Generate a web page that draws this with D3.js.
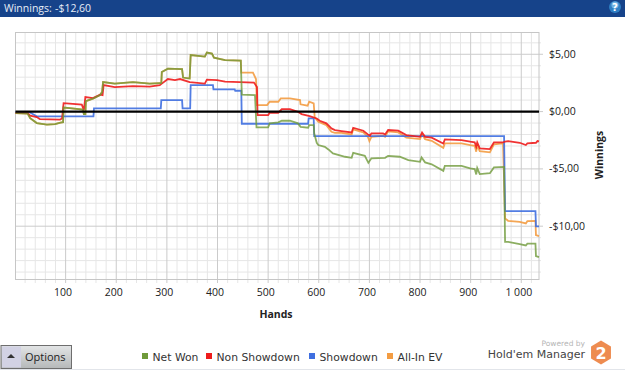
<!DOCTYPE html>
<html>
<head>
<meta charset="utf-8">
<title>Winnings</title>
<script src="https://d3js.org/d3.v7.min.js"></script>
<style>
html, body { margin: 0; padding: 0; background: #fff; overflow: hidden; }
text { font-family: "DejaVu Sans", sans-serif; }
.lbl text { font-family: "Open Sans", sans-serif; }
</style>
</head>
<body>
<script>
// values: [hand, dollars]
var netWon = [[1,-0.13],[25,-0.17],[30,-0.57],[43,-1.0],[63,-1.13],[79,-1.09],[90,-0.96],[95,-0.92],[96,0.35],[108,0.3],[134,0.17],[136,-0.22],[139,-0.22],[140,0.92],[154,1.13],[168,1.44],[172,1.7],[174,2.57],[197,2.44],[233,2.57],[266,2.44],[286,2.49],[289,2.49],[290,3.45],[302,3.75],[330,3.71],[332,2.97],[345,2.88],[347,4.93],[375,4.8],[379,5.15],[389,5.06],[393,4.71],[415,4.49],[446,4.45],[448,1.48],[474,1.44],[477,-1.38],[500,-1.38],[503,-1.03],[520,-0.94],[527,-0.8],[543,-0.8],[559,-1.03],[564,-1.33],[579,-1.41],[581,-1.18],[590,-1.18],[591,-1.9],[596,-2.72],[599,-2.92],[612,-3.07],[619,-3.3],[628,-3.65],[652,-3.94],[665,-4.03],[668,-3.6],[691,-3.86],[698,-4.47],[704,-4.08],[731,-4.03],[737,-3.86],[760,-3.94],[777,-4.23],[800,-4.38],[803,-4.0],[810,-4.43],[823,-4.6],[846,-5.17],[849,-4.73],[882,-4.73],[899,-4.96],[908,-5.02],[911,-5.48],[913,-4.93],[918,-5.45],[938,-5.38],[946,-4.87],[966,-4.82],[968,-11.36],[974,-11.36],[997,-11.56],[1009,-11.68],[1012,-11.52],[1028,-11.52],[1029,-12.6],[1035,-12.7]];
var nonShowdown = [[1,-0.13],[25,-0.13],[30,-0.35],[43,-0.48],[49,-0.65],[89,-0.7],[93,-0.6],[96,0.74],[108,0.7],[132,0.61],[136,0.13],[139,1.27],[154,1.18],[168,1.48],[173,1.44],[175,2.31],[197,2.14],[233,2.22],[266,2.18],[286,2.31],[290,2.44],[302,2.84],[316,2.75],[326,2.84],[345,2.57],[375,2.44],[379,2.79],[399,2.75],[415,2.62],[444,2.57],[472,2.53],[478,2.14],[479,-0.31],[500,-0.31],[503,-0.1],[520,-0.1],[527,0.22],[543,0.22],[559,-0.01],[566,-0.22],[582,-0.39],[596,-0.6],[602,-0.8],[615,-1.03],[625,-1.47],[632,-1.61],[645,-1.7],[665,-1.82],[668,-1.41],[688,-1.67],[697,-1.99],[701,-2.11],[704,-1.9],[727,-1.9],[731,-1.99],[737,-1.61],[757,-1.67],[773,-2.05],[800,-2.2],[804,-1.82],[810,-2.2],[823,-2.28],[846,-2.78],[849,-2.43],[882,-2.49],[899,-2.63],[908,-2.69],[911,-3.07],[913,-2.69],[918,-3.21],[938,-3.27],[946,-2.69],[964,-2.69],[968,-2.63],[974,-2.57],[997,-2.72],[1009,-2.92],[1012,-2.78],[1029,-2.72],[1032,-2.57],[1035,-2.6]];
var showdown = [[1,-0.04],[28,-0.04],[43,-0.42],[155,-0.42],[156,0.28],[288,0.28],[289,1.0],[330,1.0],[331,0.28],[346,0.28],[347,2.31],[391,2.31],[392,1.94],[434,1.94],[435,1.82],[447,1.82],[448,-1.06],[579,-1.06],[580,-0.59],[590,-0.59],[591,-2.14],[966,-2.14],[968,-8.68],[1028,-8.68],[1029,-10.02],[1035,-10.02]];
var allInEV = [[1,-0.13],[25,-0.17],[30,-0.57],[43,-1.0],[63,-1.13],[79,-1.09],[90,-0.96],[95,-0.92],[96,0.35],[108,0.3],[134,0.17],[136,-0.22],[139,-0.22],[140,0.92],[154,1.13],[168,1.44],[172,1.7],[174,2.57],[197,2.44],[233,2.57],[266,2.44],[286,2.49],[289,2.49],[290,3.45],[302,3.75],[330,3.71],[332,2.97],[345,2.88],[347,4.93],[375,4.8],[379,5.15],[389,5.06],[393,4.71],[415,4.49],[446,4.45],[447,3.4],[470,3.4],[476,2.84],[478,0.57],[498,0.57],[503,0.86],[520,0.86],[525,1.15],[543,1.15],[563,1.0],[564,0.63],[578,0.51],[581,0.86],[590,0.72],[592,-0.51],[599,-0.89],[615,-1.18],[625,-1.76],[632,-1.85],[645,-1.85],[665,-1.99],[668,-1.55],[688,-1.82],[697,-2.2],[700,-2.57],[704,-2.2],[727,-2.11],[731,-2.2],[737,-1.73],[757,-1.82],[773,-2.28],[800,-2.4],[804,-1.99],[810,-2.4],[823,-2.55],[846,-3.16],[849,-2.78],[882,-2.78],[899,-2.92],[908,-2.98],[911,-3.5],[913,-2.98],[918,-3.45],[938,-3.56],[946,-2.86],[964,-2.78],[968,-9.32],[974,-9.53],[997,-9.62],[1009,-9.76],[1012,-9.56],[1028,-9.53],[1029,-10.78],[1035,-10.87]];

var xMajor = [100,200,300,400,500,600,700,800,900,1000];
var xMinor = d3.range(20,1035,20).filter(function(d){ return d % 100 != 0; });
var yMajor = [5,0,-5,-10];
var yMinor = d3.range(-14,7,1).filter(function(d){ return d % 5 != 0; });

var legendNames = ["Net Won","Non Showdown","Showdown","All-In EV"];
var legendColors = ["#6f9a3a","#ee1c1c","#3f6fe0","#f39c42"];
var legendX = [142,206,309,387];

var width = 625, height = 370;
var svg = d3.select("body").append("svg").attr("width",width).attr("height",height).style("display","block");

var x = d3.scaleLinear().domain([1,1035]).range([15.5,539]);
var y = d3.scaleLinear().domain([6.9,-14.65]).range([32.5,279.5]);

function money(d) {
    var s = "$" + Math.abs(d).toFixed(2).replace(".",",");
    return d < 0 ? "-" + s : s;
}
function hands(d) {
    return d >= 1000 ? "1 000" : d;
}

// title bar
svg.append("rect").attr("width",width).attr("height",17).attr("fill","#16438a");
svg.append("text").attr("x",4).attr("y",12).attr("font-size",10.5).attr("fill","#e6edf7")
    .style("font-family","'Open Sans', sans-serif").text("Winnings:");
svg.append("text").attr("x",55).attr("y",12).attr("font-size",10.5).attr("fill","#e6edf7")
    .style("font-family","'Open Sans', sans-serif").text("-$12,60");
var help = svg.append("g").attr("transform","translate(615,7)");
help.append("circle").attr("r",6).attr("fill","#2f7fc4");
help.append("circle").attr("r",3.6).attr("cy",-2).attr("fill","#6fb0e2");
help.append("text").attr("text-anchor","middle").attr("y",4).attr("font-size",10).attr("font-weight","bold").attr("fill","#fff").text("?");

// grid, minor first
var gridMinorX = d3.axisBottom(x).tickValues(xMinor).tickSize(251).offset(0).tickFormat("");
var gridMinorY = d3.axisRight(y).tickValues(yMinor).tickSize(526).offset(0).tickFormat("");
var gridMajorX = d3.axisBottom(x).tickValues(xMajor).tickSize(251).offset(0).tickFormat("");
var gridMajorY = d3.axisRight(y).tickValues(yMajor).tickSize(528).offset(0).tickFormat("");

function grid(axis, tr, color) {
    var g = svg.append("g").attr("transform",tr).call(axis);
    g.select(".domain").remove();
    g.selectAll("line").attr("stroke",color);
}
grid(gridMinorX,"translate(0,32)","#e6e6e6");
grid(gridMinorY,"translate(15,0)","#e6e6e6");
grid(gridMajorX,"translate(0,32)","#cbcbcb");
grid(gridMajorY,"translate(15,0)","#cbcbcb");

svg.append("rect").attr("x",15.5).attr("y",32.5).attr("width",523.5).attr("height",247)
    .attr("fill","none").attr("stroke","#c6c6c6");

// labels
var xLabels = svg.append("g").attr("class","lbl").attr("font-size",10.5).attr("fill","#222").attr("text-anchor","middle");
xLabels.selectAll("text").data(xMajor).enter().append("text")
    .attr("x",function(d){ return x(d) - 2.5; }).attr("y",296).text(hands);

var yLabels = svg.append("g").attr("class","lbl").attr("font-size",10.5).attr("fill","#222");
yLabels.selectAll("text").data(yMajor).enter().append("text")
    .attr("x",549).attr("y",function(d){ return y(d) + 3.5; }).text(money);

svg.append("text").attr("x",276).attr("y",318).attr("text-anchor","middle").attr("font-size",10.5)
    .attr("font-weight","bold").style("font-family","'Open Sans', sans-serif").attr("fill","#222").text("Hands");
svg.append("text").attr("transform","translate(603,155) rotate(-90)").attr("text-anchor","middle").attr("font-size",10.5)
    .attr("font-weight","bold").style("font-family","'Open Sans', sans-serif").attr("fill","#222").text("Winnings");

// lines
var line = d3.line().x(function(d){ return x(d[0]); }).y(function(d){ return y(d[1]); });
var drawOrder = [[allInEV,3],[showdown,2],[nonShowdown,1],[netWon,0]];
var lines = svg.append("g").style("filter","blur(0.3px)");
drawOrder.forEach(function(s) {
    lines.append("path").attr("d",line(s[0])).attr("fill","none")
        .attr("stroke",legendColors[s[1]]).attr("stroke-width",1.8)
        .attr("stroke-opacity",s[1] == 0 ? 0.8 : 0.9);
});

// zero line
svg.append("line").attr("x1",x(1)).attr("x2",539).attr("y1",y(0)).attr("y2",y(0)).attr("stroke","#000").attr("stroke-width",2.4);

// legend
var legend = svg.append("g").selectAll("g").data(legendNames).enter().append("g")
    .attr("transform",function(d,i){ return "translate(" + legendX[i] + ",353)"; });
legend.append("rect").attr("width",6).attr("height",6).attr("fill",function(d,i){ return legendColors[i]; });
legend.append("text").attr("x",10.5).attr("y",7.5).attr("font-size",10.8).attr("fill","#333").text(function(d){ return d; });

// options button
var defs = svg.append("defs");
var grad = defs.append("linearGradient").attr("id","btn").attr("x1",0).attr("x2",0).attr("y1",0).attr("y2",1);
grad.append("stop").attr("offset","0").attr("stop-color","#e3e5e6");
grad.append("stop").attr("offset","1").attr("stop-color","#b5b8b9");
svg.append("rect").attr("x",1).attr("y",345.5).attr("width",70.5).attr("height",23).attr("fill","url(#btn)").attr("stroke","#6e6e6e");
svg.append("rect").attr("x",2).attr("y",346.5).attr("width",19).attr("height",21).attr("fill","#d2d2e4");
svg.append("path").attr("d",d3.line()([[7,358],[15,358],[11,354]])).attr("fill","#333");
svg.append("text").attr("x",25).attr("y",361).attr("font-size",11).attr("fill","#222")
    .style("font-family","'Open Sans', sans-serif").text("Options");

// logo
svg.append("text").attr("x",585).attr("y",346).attr("text-anchor","end").attr("font-size",7.5).attr("fill","#b5b5b5").text("Powered by");
svg.append("text").attr("x",585).attr("y",358).attr("text-anchor","end").attr("font-size",11).attr("fill","#444").text("Hold'em Manager");
var hex = d3.range(6).map(function(i){
    var a = Math.PI / 3 * i + Math.PI / 6;
    return [601 + 11.5 * Math.cos(a), 352.5 + 12 * Math.sin(a)];
});
svg.append("path").attr("d",d3.line()(hex) + "Z").attr("fill","#ee8c50");
svg.append("text").attr("x",601).attr("y",358.5).attr("text-anchor","middle").attr("font-size",16).attr("font-weight","bold").attr("fill","#fff").text("2");

// bottom edge
svg.append("line").attr("x1",0).attr("x2",625).attr("y1",369.5).attr("y2",369.5).attr("stroke","#e2e5ea");
</script>
</body>
</html>
